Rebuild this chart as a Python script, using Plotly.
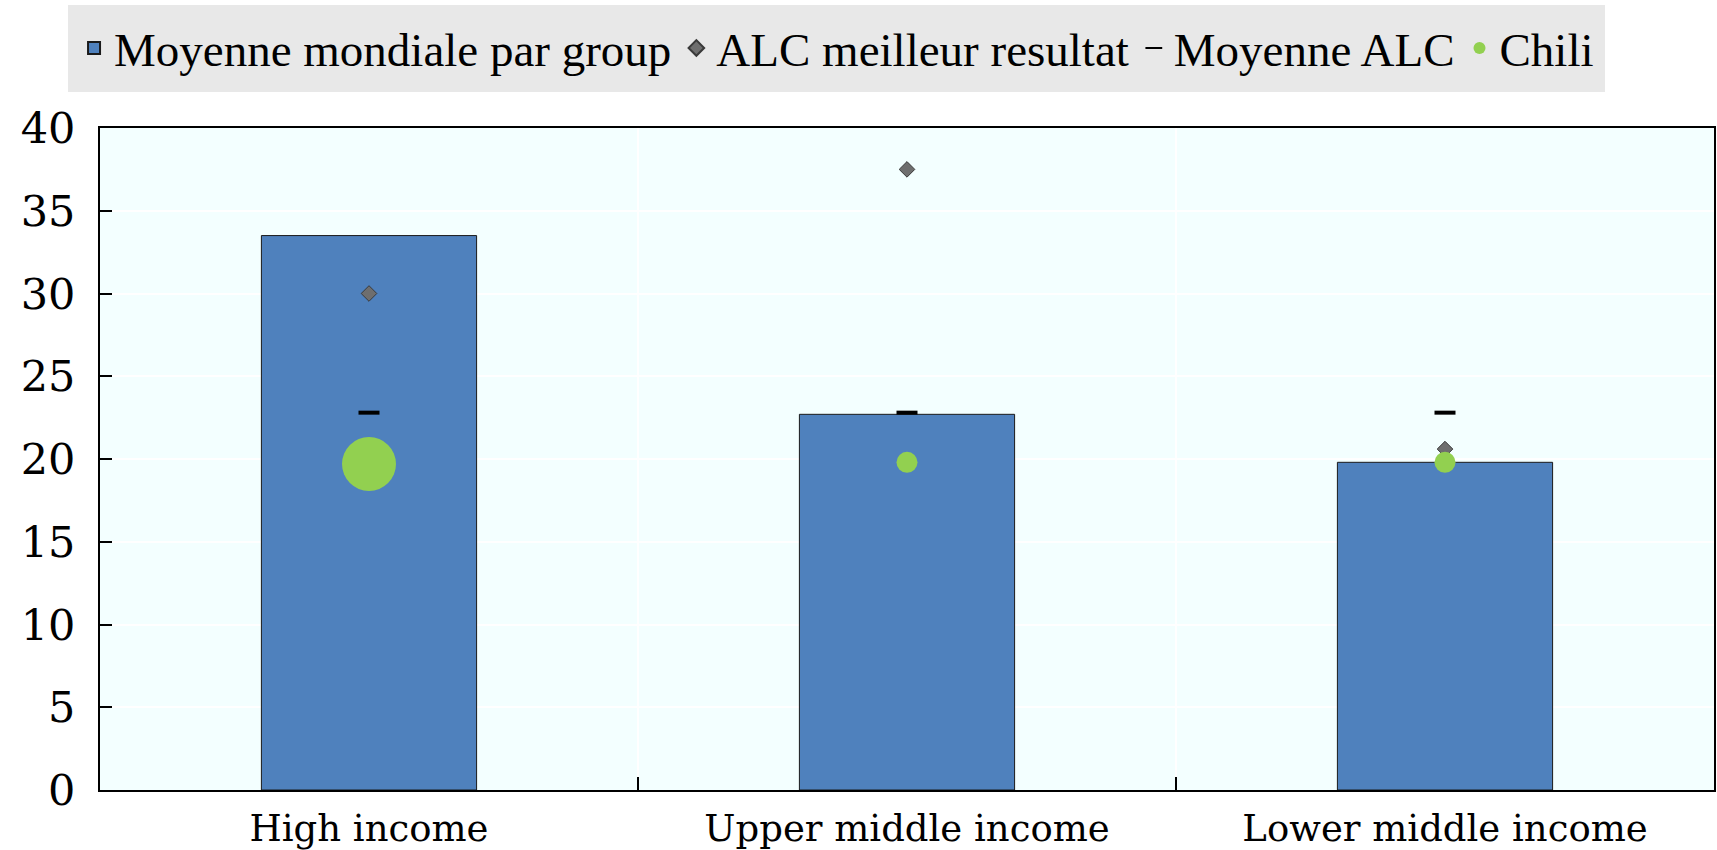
import plotly.graph_objects as go

categories = ["High income", "Upper middle income", "Lower middle income"]
moyenne_mondiale = [33.5, 22.7, 19.8]
alc_meilleur = [30.0, 37.5, 20.6]
moyenne_alc = [22.8, 22.8, 22.8]
chili = [19.7, 19.8, 19.8]
chili_sizes = [54, 21, 21]

y_ticks = [0, 5, 10, 15, 20, 25, 30, 35, 40]

serif_legend = "Liberation Serif"
serif_axis = "DejaVu Serif"

fig = go.Figure()
fig.add_trace(go.Bar(
    x=categories, y=moyenne_mondiale, name="Moyenne mondiale par group",
    width=0.4, marker=dict(color="#4f81bd", line=dict(color="#1a1a1a", width=1)),
))
fig.add_trace(go.Scatter(
    x=categories, y=alc_meilleur, mode="markers", name="ALC meilleur resultat",
    marker=dict(symbol="diamond", size=12, color="#6e6e6e", line=dict(color="#3a3a3a", width=1)),
))
fig.add_trace(go.Scatter(
    x=categories, y=moyenne_alc, mode="markers", name="Moyenne ALC",
    marker=dict(symbol="line-ew", size=15, color="black", line=dict(color="black", width=4)),
))
fig.add_trace(go.Scatter(
    x=categories, y=chili, mode="markers", name="Chili",
    marker=dict(symbol="circle", size=chili_sizes, color="#92d050", opacity=1,
                line=dict(width=0)),
))

fig.update_layout(
    width=1717, height=850,
    margin=dict(l=100, r=3, t=128, b=60, autoexpand=False),
    paper_bgcolor="white",
    plot_bgcolor="#f3ffff",
    bargap=0.6,
    showlegend=True,
    legend=dict(
        orientation="h", x=-0.0198, xanchor="left", y=1.186, yanchor="top",
        bgcolor="#e8e8e8", bordercolor="#e8e8e8", borderwidth=6,
        font=dict(family=serif_legend, size=47, color="black"),
        itemsizing="constant", tracegroupgap=0,
    ),
    xaxis=dict(
        type="category", tickson="boundaries", ticks="inside", ticklen=13, tickwidth=2,
        tickcolor="black", showgrid=True, gridcolor="white", gridwidth=2,
        showline=True, linecolor="black", linewidth=2, mirror=True, automargin=False,
        tickfont=dict(family=serif_axis, size=37, color="black"), ticklabelstandoff=5,
    ),
    yaxis=dict(
        range=[0, 40], tickvals=y_ticks, ticks="inside", ticklen=12, tickwidth=2,
        tickcolor="black", showgrid=True, gridcolor="white", gridwidth=2,
        showline=True, linecolor="black", linewidth=2, mirror=True, zeroline=False,
        automargin=False,
        tickfont=dict(family=serif_axis, size=43, color="black"), ticklabelstandoff=14,
    ),
)

fig.write_html(
    "out.html",
    config={"displayModeBar": False},
    post_script="document.body.style.margin='0';document.body.style.overflow='hidden';",
)
